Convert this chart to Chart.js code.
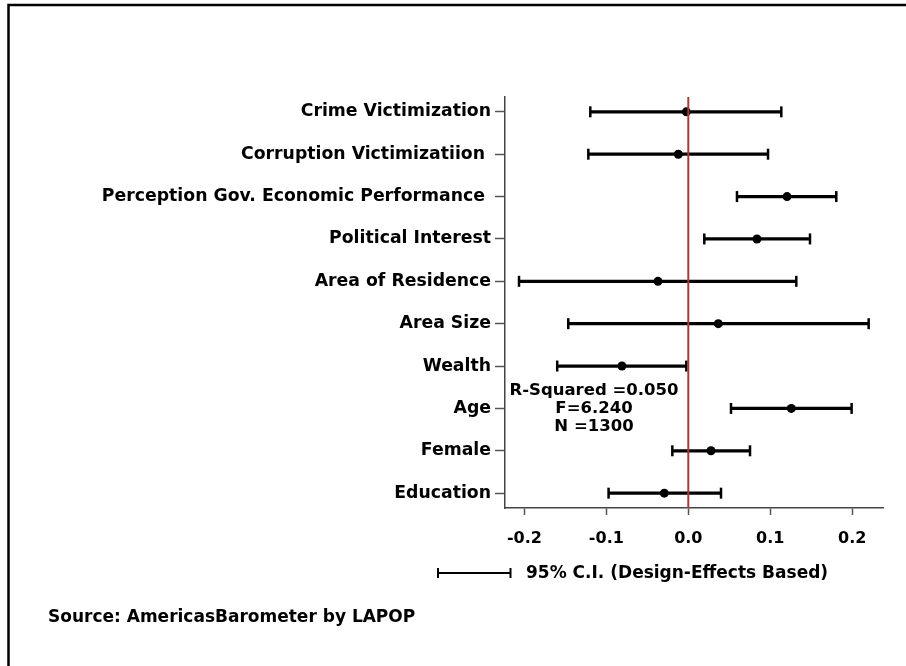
<!DOCTYPE html>
<html>
<head>
<meta charset="utf-8">
<script src="https://cdn.jsdelivr.net/npm/chart.js@4.4.0/dist/chart.umd.min.js"></script>
<style>
  html, body { margin: 0; padding: 0; background: #fff; }
  #wrap { width: 906px; height: 666px; }
</style>
</head>
<body>
<div id="wrap"><canvas id="chart" width="906" height="666"></canvas></div>
<script>
// variables (top to bottom)
const labels = ['Crime Victimization', 'Corruption Victimizatiion ', 'Perception Gov. Economic Performance ',
  'Political Interest', 'Area of Residence', 'Area Size', 'Wealth', 'Age', 'Female', 'Education'];
// coefficients and 95% CI ends
const coef = [-0.0024, -0.0122, 0.1205, 0.0838, -0.037, 0.0366, -0.081, 0.1257, 0.0277, -0.0293];
const lower = [-0.1196, -0.122, 0.0594, 0.0195, -0.2066, -0.1465, -0.160, 0.0521, -0.0195, -0.0973];
const upper = [0.1135, 0.0973, 0.1806, 0.1485, 0.1318, 0.2201, -0.0024, 0.1993, 0.0753, 0.0399];
const xTicks = [-0.2, -0.1, 0.0, 0.1, 0.2];
const statsText = ['R-Squared =0.050', 'F=6.240', 'N =1300'];
const legendText = '95% C.I. (Design-Effects Based)';
const sourceText = 'Source: AmericasBarometer by LAPOP';

Chart.defaults.font.family = "'DejaVu Sans', sans-serif";
Chart.defaults.font.weight = 'bold';
Chart.defaults.color = '#000';

const rows = labels.map((_, i) => i + 1);

// whiskers, caps, points
const whiskers = rows.map((r, i) => ({ y: r, x: [lower[i], upper[i]] }));
const caps = [];
rows.forEach((r, i) => { caps.push({ x: lower[i], y: r }); caps.push({ x: upper[i], y: r }); });
const points = rows.map((r, i) => ({ x: coef[i], y: r }));

// extra text, legend key and frame
const extras = {
  id: 'extras',
  afterDraw(chart) {
    const c = chart.ctx;
    c.save();
    c.fillStyle = '#000';
    c.strokeStyle = '#000';
    // frame (top + left)
    c.lineWidth = 2.5;
    c.beginPath();
    c.moveTo(906, 5); c.lineTo(8.5, 5); c.lineTo(8.5, 666);
    c.stroke();
    // stats
    c.font = "bold 16.5px 'DejaVu Sans'";
    c.textAlign = 'center';
    c.textBaseline = 'middle';
    statsText.forEach((t, k) => c.fillText(t, 594, 391 + k * 18));
    // legend key
    c.lineWidth = 2;
    c.beginPath();
    c.moveTo(437, 573); c.lineTo(511, 573);
    c.moveTo(438, 568); c.lineTo(438, 578);
    c.moveTo(510.5, 568); c.lineTo(510.5, 578);
    c.stroke();
    c.font = "bold 17px 'DejaVu Sans'";
    c.textAlign = 'left';
    c.fillText(legendText, 526, 574);
    c.fillText(sourceText, 48, 618);
    c.restore();
  }
};

new Chart(document.getElementById('chart'), {
  type: 'scatter',
  data: {
    datasets: [
      {
        type: 'line',
        data: [{ x: 0, y: 0.65 }, { x: 0, y: 10.35 }],
        borderColor: '#a33b3b',
        borderWidth: 2,
        pointRadius: 0,
        order: 0
      },
      {
        type: 'bar',
        indexAxis: 'y',
        data: whiskers,
        backgroundColor: '#000',
        barThickness: 2.5,
        borderWidth: 0,
        order: 3
      },
      {
        data: caps,
        pointStyle: 'line',
        rotation: 90,
        radius: 5.5,
        borderColor: '#000',
        borderWidth: 2.5,
        order: 2
      },
      {
        data: points,
        pointStyle: 'circle',
        radius: 4.5,
        backgroundColor: '#000',
        borderColor: '#000',
        borderWidth: 0,
        order: 1
      }
    ]
  },
  options: {
    responsive: false,
    animation: false,
    events: [],
    layout: { padding: { top: 97, right: 23, left: 0, bottom: 118 } },
    plugins: { legend: { display: false }, tooltip: { enabled: false } },
    scales: {
      x: {
        type: 'linear',
        min: -0.2237,
        max: 0.2376,
        offset: false,
        afterBuildTicks: s => { s.ticks = xTicks.map(v => ({ value: v })); },
        afterFit: s => { s.height = 40; },
        ticks: {
          font: { size: 16, weight: 'bold' },
          padding: 14,
          maxRotation: 0,
          callback: v => v.toFixed(1)
        },
        grid: { drawOnChartArea: false, offset: false, tickLength: 7, color: '#555', tickWidth: 1.5 },
        border: { color: '#444', width: 1.5 }
      },
      y: {
        type: 'linear',
        reverse: true,
        min: 0.65,
        max: 10.35,
        offset: false,
        afterBuildTicks: s => { s.ticks = rows.map(v => ({ value: v })); },
        afterFit: s => { s.width = 505; },
        ticks: {
          font: { size: 17.3, weight: 'bold' },
          padding: 4,
          autoSkip: false,
          callback: v => labels[v - 1]
        },
        grid: { drawOnChartArea: false, offset: false, tickLength: 10, color: '#555', tickWidth: 1.5 },
        border: { color: '#444', width: 1.5 }
      }
    }
  },
  plugins: [extras]
});
</script>
</body>
</html>
